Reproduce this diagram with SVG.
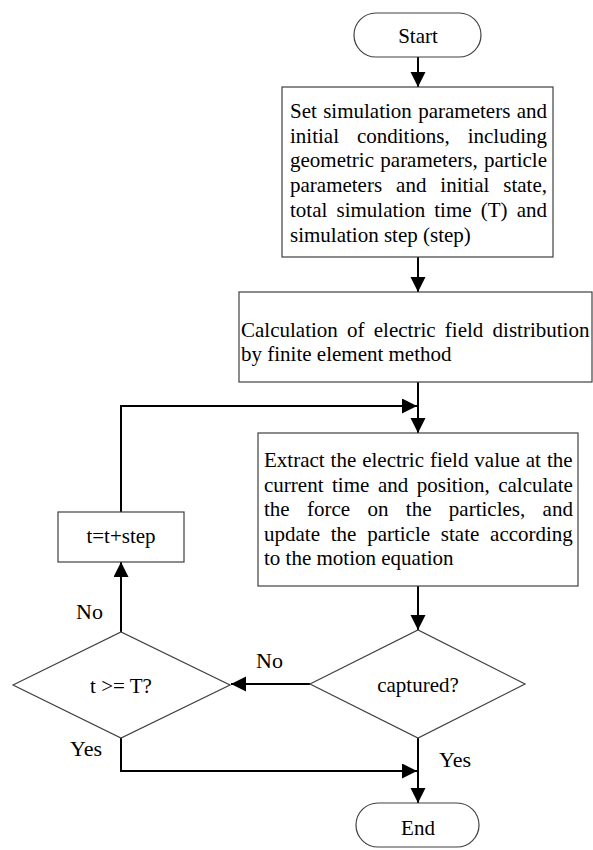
<svg xmlns="http://www.w3.org/2000/svg" width="593" height="850" viewBox="0 0 593 850">
<defs>
<marker id="ah" markerUnits="userSpaceOnUse" markerWidth="16" markerHeight="16" refX="15" refY="7.5" orient="auto">
<path d="M0,0 L15,7.5 L0,15 Z" fill="#000"/>
</marker>
<style>
.box{fill:#fff;stroke:#404040;stroke-width:1.2}
.t{font-family:"Liberation Serif","Times New Roman",serif;font-size:21px;fill:#000}
.c{text-anchor:middle}
.lbl{font-family:"Liberation Serif","Times New Roman",serif;font-size:22px;fill:#000}
.conn{fill:none;stroke:#000;stroke-width:2}
</style>
</defs>
<rect width="593" height="850" fill="#fff"/>
<g id="connectors">
<path class="conn" d="M418,57 V87" marker-end="url(#ah)"/>
<path class="conn" d="M418,257 V292" marker-end="url(#ah)"/>
<path class="conn" d="M418,382 V433" marker-end="url(#ah)"/>
<path class="conn" d="M121,512 V406 H417" marker-end="url(#ah)"/>
<path class="conn" d="M418,586 V630" marker-end="url(#ah)"/>
<path class="conn" d="M310,684 H231" marker-end="url(#ah)"/>
<path class="conn" d="M121,632 V562" marker-end="url(#ah)"/>
<path class="conn" d="M121,738 V771 H417" marker-end="url(#ah)"/>
<path class="conn" d="M418,738 V803" marker-end="url(#ah)"/>
<text class="lbl" x="76" y="619">No</text>
<text class="lbl" x="256" y="668">No</text>
<text class="lbl" x="70" y="756">Yes</text>
<text class="lbl" x="439" y="767">Yes</text>
</g>
<g id="start">
<rect class="box" x="354" y="13" width="127" height="44" rx="22"/>
<text class="t c" x="418" y="43">Start</text>
</g>
<g id="setup">
<rect class="box" x="282" y="87" width="271" height="170"/>
<text class="t" x="290" y="118" word-spacing="1.1">Set simulation parameters and</text>
<text class="t" x="290" y="142.7" word-spacing="12.7">initial conditions, including</text>
<text class="t" x="290" y="167.4" word-spacing="1.1">geometric parameters, particle</text>
<text class="t" x="290" y="192.1" word-spacing="8.7">parameters and initial state,</text>
<text class="t" x="290" y="216.8" word-spacing="3.9">total simulation time (T) and</text>
<text class="t" x="290" y="241.5">simulation step (step)</text>
</g>
<g id="fem">
<rect class="box" x="239" y="292" width="353" height="90"/>
<text class="t" x="241" y="337" word-spacing="4">Calculation of electric field distribution</text>
<text class="t" x="241" y="361">by finite element method</text>
</g>
<g id="update">
<rect class="box" x="258" y="433" width="320" height="153"/>
<text class="t" x="264" y="467" word-spacing="0.7">Extract the electric field value at the</text>
<text class="t" x="264" y="491.5" word-spacing="3.3">current time and position, calculate</text>
<text class="t" x="264" y="516" word-spacing="12.1">the force on the particles, and</text>
<text class="t" x="264" y="540.5" word-spacing="5.5">update the particle state according</text>
<text class="t" x="264" y="565">to the motion equation</text>
</g>
<g id="captured">
<polygon class="box" points="310,684 418,630 525,684 418,738"/>
<text class="t c" x="418" y="692">captured?</text>
</g>
<g id="check-t">
<polygon class="box" points="13,685 121,632 230,685 121,738"/>
<text class="t c" x="121" y="693">t &gt;= T?</text>
</g>
<g id="increment">
<rect class="box" x="58" y="512" width="126" height="50"/>
<text class="t c" x="121" y="543">t=t+step</text>
</g>
<g id="end">
<rect class="box" x="356" y="803" width="123" height="44" rx="22"/>
<text class="t c" x="418" y="835">End</text>
</g>
</svg>
